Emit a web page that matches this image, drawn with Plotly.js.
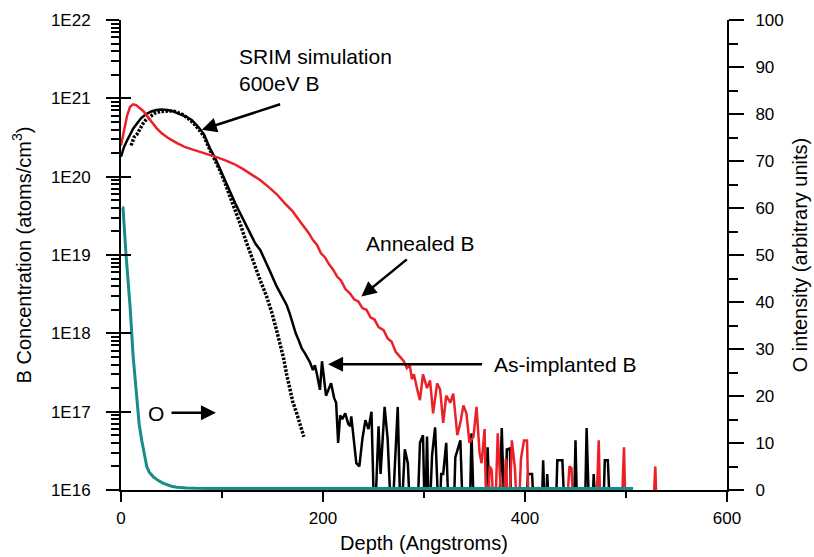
<!DOCTYPE html>
<html>
<head>
<meta charset="utf-8">
<script src="https://cdn.plot.ly/plotly-3.0.1.min.js"></script>
<style>html,body{margin:0;padding:0;background:#fff;}#chart{width:814px;height:557px;}</style>
</head>
<body>
<div id="chart"></div>
<script>
// ---------- DATA ----------
const depthAnnealed = [0,3,6,9,12,15,18,22,26,30,35,40,47,55,63,72,80,88,96,104,112,121,130,138,146,154,162,170,178,186,190,194,198,202,206,210,214,218,222,227,231,235,239,243,247,251,255,260,264,268,272,276,280,283,286,288,290,293,296,299,303,306,309,313,316,319,322,326,329,333,336,339,342,345,349,352,355,357,360,362,365,367,370,373,375,378,381,384,387,390,393,396,399,402,404,410,413,416,419,421,424,440,444,446,449,470,473,475,495,498,500,526,529,531];
const concAnnealed = [2.5e20,4.0e20,6.0e20,7.8e20,8.4e20,8.2e20,7.6e20,6.9e20,5.9e20,5.0e20,4.2e20,3.6e20,3.1e20,2.7e20,2.4e20,2.2e20,2.05e20,1.9e20,1.75e20,1.6e20,1.45e20,1.25e20,1.05e20,9.0e19,7.4e19,6.0e19,4.6e19,3.6e19,2.6e19,1.9e19,1.55e19,1.35e19,1.05e19,9.3e18,7.6e18,6.5e18,5.3e18,4.7e18,3.7e18,3.2e18,2.7e18,2.55e18,2.1e18,2.0e18,1.6e18,1.5e18,1.2e18,1.1e18,8.6e17,7.8e17,5.8e17,5.0e17,4.4e17,3.6e17,3.9e17,2.6e17,3.0e17,2.0e17,1.4e17,3.0e17,2.0e17,2.5e17,9.5e16,2.3e17,1.9e17,7.2e16,1.6e17,1.3e17,1.7e17,5.0e16,7.2e16,1.2e17,9.5e16,4.0e16,4.8e16,1.15e17,3.0e16,2.2e16,6.0e16,3e15,2.0e16,1.8e16,3e15,5.3e16,2.0e16,3e15,2.5e16,3e15,4.3e16,1.9e16,3e15,2.5e16,4.3e16,4.3e16,3e15,3e15,1.1e16,3e15,3e15,1.1e16,3e15,3e15,2.0e16,1.9e16,3e15,3e15,4.3e16,3e15,3e15,3.5e16,3e15,3e15,2.0e16,3e15];

const depthImplanted = [0,3,6,9,12,16,20,25,30,35,40,46,52,58,64,70,76,82,88,93,98,103,108,113,118,123,128,133,138,143,148,154,160,164,167,170,173,176,179,182,184,187,190,192,194,197,199,201,203,206,208,211,213,215,217,219,222,225,227,228,231,233,236,239,242,245,248,251,255,257,261,264,268,274,277,281,284,287,293,296,299,301,303,305,308,311,315,317,319,322,325,329,331,336,339,345,347,350,360,363,366,374,377,380,382,385,387,400,403,407,410,416,418,420,422,425,430,432,437,440,448,450,452,459,461,464,466,468,471,477,479,482,485];
const concImplanted = [1.8e20,2.4e20,2.9e20,3.5e20,4.1e20,4.8e20,5.6e20,6.3e20,6.8e20,7.1e20,7.2e20,7.1e20,6.8e20,6.3e20,5.9e20,5.3e20,4.4e20,3.5e20,2.3e20,1.75e20,1.25e20,8.9e19,6.3e19,4.6e19,3.4e19,2.5e19,1.85e19,1.4e19,1.15e19,8.5e18,6.0e18,4.0e18,2.8e18,2.3e18,1.8e18,1.3e18,1.0e18,8.1e17,6.4e17,5.6e17,5.0e17,4.3e17,3.4e17,3.9e17,3.0e17,1.9e17,4.4e17,2.4e17,1.6e17,2.0e17,2.3e17,1.5e17,1.3e17,4.0e16,9.0e16,8.0e16,9.5e16,7.0e16,6.5e16,8.7e16,4.0e16,2.2e16,2.0e16,4.5e16,7.8e16,6.0e16,1.0e17,3e15,6.5e16,1.6e16,1.15e17,4.5e16,3e15,1.15e17,3e15,3.3e16,2.2e16,3e15,3e15,4.0e16,5.0e16,3e15,4.8e16,3e15,2.8e16,6.3e16,3e15,1.6e16,1.6e16,4.0e16,3e15,3e15,2.6e16,4.3e16,3e15,3e15,5.3e16,3e15,3e15,3.5e16,3e15,3e15,6.2e16,3e15,3.3e16,3.4e16,3e15,3e15,1.6e16,1.6e16,3e15,3e15,2.4e16,3e15,1.6e16,3e15,3e15,2.4e16,2.4e16,3e15,3e15,4.3e16,3e15,3e15,6.2e16,3e15,3e15,1.6e16,3e15,3e15,2.4e16,2.4e16,3e15];

const depthSrim = [10,13,16,19,22,25,29,34,39,45,50,55,61,66,72,77,82,88,93,98,103,108,113,118,123,128,133,138,144,149,154,157,161,164,167,170,174,177,181];
const concSrim = [2.5e20,3.2e20,3.5e20,4.2e20,4.8e20,5.4e20,5.9e20,6.5e20,6.8e20,6.9e20,6.9e20,6.7e20,6.2e20,5.6e20,4.8e20,4.0e20,3.3e20,2.2e20,1.65e20,1.2e20,8.3e19,5.6e19,3.7e19,2.5e19,1.6e19,1.05e19,7.0e18,4.7e18,3.0e18,1.9e18,1.1e18,7.9e17,4.8e17,3.0e17,1.9e17,1.35e17,9.5e16,6.8e16,4.8e16];

const depthOxygen = [1,2,5,9,12,15.5,18,20.5,23,25.5,28,32,37,42,50,55,65,75,100,150,200,250,300,350,400,450,507];
const intensityOxygen = [60,60,50,39,28.5,20,14,10.6,7.5,5.0,3.8,2.8,2.0,1.4,0.8,0.6,0.45,0.35,0.3,0.3,0.3,0.3,0.3,0.3,0.3,0.3,0.3];

const yTickVals = [1e16,1e17,1e18,1e19,1e20,1e21,1e22];
const yTickText = ['1E16','1E17','1E18','1E19','1E20','1E21','1E22'];
const xTickVals = [0,200,400,600];
const xMinorVals = [100,300,500];
const oTickVals = [0,10,20,30,40,50,60,70,80,90,100];
const oMinorVals = [5,15,25,35,45,55,65,75,85,95];

// ---------- STYLE ----------
const FONT = 'Liberation Sans, Arial, Helvetica, sans-serif';
const RED = '#ec2027';
const TEAL = '#178c89';

const yMinorVals = [];
for (let e = 16; e < 22; e++) for (let d = 2; d <= 9; d++) yMinorVals.push(d * Math.pow(10, e));

const traces = [
  {x: depthSrim, y: concSrim, type:'scatter', mode:'lines', name:'SRIM simulation 600eV B',
   line:{color:'black', width:3.5, dash:'2.5px,1.5px'}, xaxis:'x', yaxis:'y'},
  {x: depthImplanted, y: concImplanted, type:'scatter', mode:'lines', name:'As-implanted B',
   line:{color:'black', width:2.5}, xaxis:'x', yaxis:'y'},
  {x: depthAnnealed, y: concAnnealed, type:'scatter', mode:'lines', name:'Annealed B',
   line:{color:RED, width:2.5}, xaxis:'x', yaxis:'y'},
  {x:[null], y:[null], type:'scatter', mode:'lines', showlegend:false, hoverinfo:'skip', xaxis:'x', yaxis:'y3'},
  {x: depthOxygen, y: intensityOxygen, type:'scatter', mode:'lines', name:'O',
   line:{color:TEAL, width:3}, xaxis:'x', yaxis:'y2'}
];

const tickCommon = {tickcolor:'black', tickwidth:2, showline:true, linecolor:'black', linewidth:2,
  showgrid:false, zeroline:false};

const layout = {
  width:814, height:557,
  margin:{l:121, r:87, t:20, b:67, pad:0},
  paper_bgcolor:'white', plot_bgcolor:'white',
  showlegend:false,
  hovermode:false,
  font:{family:FONT, size:17, color:'black'},
  xaxis: Object.assign({}, tickCommon, {
    range:[0,600], tickmode:'array', tickvals:xTickVals, ticks:'outside', ticklen:10,
    tickfont:{size:17}, ticklabelstandoff:2,
    minor:{tickmode:'array', tickvals:xMinorVals, ticks:'outside', ticklen:6, tickwidth:2, tickcolor:'black'},
    title:{text:'Depth (Angstroms)', font:{size:20}, standoff:9}
  }),
  yaxis: Object.assign({}, tickCommon, {
    type:'log', range:[16,22], tickmode:'array', tickvals:yTickVals, ticktext:yTickText,
    ticks:'outside', ticklen:13, tickfont:{size:17}, ticklabelstandoff:12,
    minor:{tickmode:'array', tickvals:yMinorVals, ticks:'outside', ticklen:8, tickwidth:2, tickcolor:'black'},
    title:{text:'B Concentration (atoms/cm<sup>3</sup>)', font:{size:20}, standoff:14}
  }),
  yaxis3: {
    overlaying:'y', side:'left', anchor:'x', type:'log', range:[16,22], tickmode:'array', tickvals:yTickVals,
    ticks:'inside', ticklen:10, tickwidth:2, tickcolor:'black', showticklabels:false,
    showline:false, showgrid:false, zeroline:false
  },
  yaxis2: Object.assign({}, tickCommon, {
    overlaying:'y', side:'right', anchor:'x', range:[0,100], tickmode:'array', tickvals:oTickVals,
    ticks:'outside', ticklen:15, tickfont:{size:17}, ticklabelstandoff:8,
    minor:{tickmode:'array', tickvals:oMinorVals, ticks:'outside', ticklen:9, tickwidth:2, tickcolor:'black'},
    title:{text:'O intensity (arbitrary units)', font:{size:20}, standoff:10}
  }),
  annotations: [
    // text labels
    {x:115, y:21.36, xref:'x', yref:'y', text:'SRIM simulation<br>600eV B', showarrow:false,
     xanchor:'left', yanchor:'middle', align:'left', font:{size:21}},
    {x:241, y:19.15, xref:'x', yref:'y', text:'Annealed B', showarrow:false,
     xanchor:'left', yanchor:'middle', font:{size:21}},
    {x:367, y:17.60, xref:'x', yref:'y', text:'As-implanted B', showarrow:false,
     xanchor:'left', yanchor:'middle', font:{size:21}},
    {x:25, y:16.975, xref:'x', yref:'y', text:'O', showarrow:false,
     xanchor:'left', yanchor:'middle', font:{size:21}},
    // arrows
    {x:80, y:20.60, xref:'x', yref:'y', ax:159, ay:20.93, axref:'x', ayref:'y', text:'',
     showarrow:true, arrowhead:2, arrowsize:1.2, arrowwidth:2.5, arrowcolor:'black'},
    {x:238, y:18.47, xref:'x', yref:'y', ax:284.5, ay:18.96, axref:'x', ayref:'y', text:'',
     showarrow:true, arrowhead:2, arrowsize:1.2, arrowwidth:2.5, arrowcolor:'black'},
    {x:205, y:17.605, xref:'x', yref:'y', ax:359, ay:17.605, axref:'x', ayref:'y', text:'',
     showarrow:true, arrowhead:2, arrowsize:1.2, arrowwidth:2.5, arrowcolor:'black'},
    {x:94, y:16.987, xref:'x', yref:'y', ax:48.5, ay:16.987, axref:'x', ayref:'y', text:'',
     showarrow:true, arrowhead:2, arrowsize:1.2, arrowwidth:2.5, arrowcolor:'black'}
  ]
};

Plotly.newPlot('chart', traces, layout, {staticPlot:true, displayModeBar:false});
</script>
</body>
</html>
